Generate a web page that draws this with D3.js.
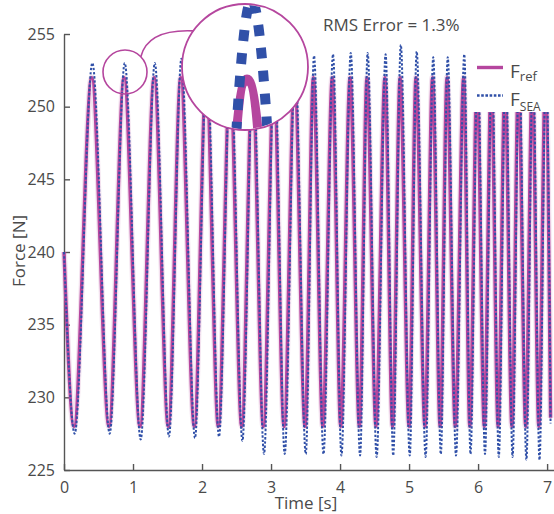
<!DOCTYPE html>
<html><head><meta charset="utf-8">
<script src="https://cdn.jsdelivr.net/npm/d3@7"></script>
<style>body{margin:0;background:#fff}svg{display:block}</style>
</head><body>
<svg id="c" width="554" height="514"></svg>
<script>
// ---- data ----
const xTicks = [0,1,2,3,4,5,6,7];
const yTicks = [225,230,235,240,245,250,255];
// F_ref: start, then alternating trough / peak times [s], end
const refTimes = [0,0.145,0.401,0.652,0.870,1.101,1.306,1.511,1.691,1.888,2.06,2.236,2.405,2.575,2.73,2.888,3.04,3.188,3.34,3.493,3.613,3.75,3.888,4.01,4.145,4.28,4.39,4.52,4.65,4.76,4.87,5.0,5.10,5.23,5.34,5.45,5.55,5.67,5.79,5.88,5.985,6.09,6.19,6.29,6.39,6.49,6.585,6.69,6.785,6.88,6.975,7.05];
const refValues = [240,228,252,228,252,228,252,228,252,228,252,228,252,228,252,228,252,228,252,228,252,228,252,228,252,228,252,228,252,228,252,228,252,228,252,228,252,228,252,228,252,228,252,228,252,228,252,228,252,228,252,228.6];
// F_SEA
const seaTimes = [0,0.155,0.411,0.662,0.880,1.111,1.316,1.521,1.701,1.898,2.07,2.246,2.415,2.585,2.74,2.898,3.05,3.198,3.35,3.503,3.623,3.76,3.898,4.02,4.155,4.29,4.40,4.53,4.66,4.77,4.88,5.01,5.11,5.24,5.35,5.46,5.56,5.68,5.80,5.89,5.995,6.10,6.20,6.30,6.40,6.50,6.595,6.70,6.795,6.89,6.985,7.05];
const seaValues = [240,227.5,253.0,227.5,253.0,227.1,253.0,227.3,253.3,227.2,253.4,227.3,253.4,227.0,253.4,226.1,253.5,226.1,253.5,226.1,253.5,226.1,253.6,226.0,253.7,226.0,253.7,225.9,253.6,226.0,254.25,226.0,253.8,225.9,253.4,226.1,253.4,226.0,253.6,226.1,253.6,226.1,253.6,225.9,253.6,225.9,253.6,225.7,253.6,225.7,253.6,228.2];
const legendLabels = [["F","ref"],["F","SEA"]];
const annotation = "RMS Error = 1.3%";

// ---- styles ----
const MAG = "#B5469E", BLUE = "#3050A8", TXT = "#4a4a4a", AX = "#555";
const FONT = "'Open Sans', sans-serif";

const svg = d3.select("#c");
const x = d3.scaleLinear().domain([0, 7.1]).range([64, 554]);
const y = d3.scaleLinear().domain([225, 255]).range([470, 34]);

const refData = refTimes.map((t,i)=>({t, v: refValues[i]}));
const seaData = seaTimes.map((t,i)=>({t, v: seaValues[i]}));

// axes
const gx = svg.append("g").attr("transform","translate(0,470)")
  .call(d3.axisBottom(x).tickValues(xTicks).tickSizeInner(-6).tickSizeOuter(0).tickPadding(12).tickFormat(d3.format("d")));
const gy = svg.append("g").attr("transform","translate(64,0)")
  .call(d3.axisLeft(y).tickValues(yTicks).tickSizeInner(-6).tickSizeOuter(0).tickPadding(9).tickFormat(d3.format("d")));
[gx, gy].forEach(g => {
  g.selectAll("path,line").attr("stroke", AX).attr("stroke-width", 1.4);
  g.selectAll("text").attr("fill", TXT).style("font-family", FONT).style("font-size", "16px");
});

svg.append("text").attr("x", 306).attr("y", 509).attr("text-anchor","middle")
  .attr("fill", TXT).style("font-family", FONT).style("font-size","17px").text("Time [s]");
svg.append("text").attr("transform","translate(25,251) rotate(-90)").attr("text-anchor","middle")
  .attr("fill", TXT).style("font-family", FONT).style("font-size","17px").text("Force [N]");

// curves
const line = d3.line().x(d=>x(d.t)).y(d=>y(d.v)).curve(d3.curveMonotoneX);
svg.append("path").datum(refData).attr("d", line).attr("fill","none")
  .attr("stroke", MAG).attr("stroke-opacity",0.16).attr("stroke-width",6);
svg.append("path").datum(refData).attr("d", line).attr("fill","none")
  .attr("stroke", MAG).attr("stroke-width",3.4);
svg.append("path").datum(seaData).attr("d", line).attr("fill","none")
  .attr("stroke", BLUE).attr("stroke-width",2).attr("stroke-dasharray","2.4,1.8");

// magnifier
const small = {cx:125, cy:72, r:22}, big = {cx:245, cy:67, r:63};
svg.append("circle").attr("cx",small.cx).attr("cy",small.cy).attr("r",small.r)
  .attr("fill","none").attr("stroke",MAG).attr("stroke-width",1.6);
const a0 = -44*Math.PI/180, a1 = -145*Math.PI/180;
const p0 = [small.cx+small.r*Math.cos(a0), small.cy+small.r*Math.sin(a0)];
const p2 = [big.cx+big.r*Math.cos(a1), big.cy+big.r*Math.sin(a1)];
const pth = d3.path(); pth.moveTo(p0[0],p0[1]); pth.quadraticCurveTo(p0[0]+7, p2[1]-2, p2[0], p2[1]);
svg.append("path").attr("d", pth.toString()).attr("fill","none").attr("stroke",MAG).attr("stroke-width",1.6);

svg.append("defs").append("clipPath").attr("id","zc").append("circle")
  .attr("cx",big.cx).attr("cy",big.cy).attr("r",big.r-1);
svg.append("circle").attr("cx",big.cx).attr("cy",big.cy).attr("r",big.r).attr("fill","#fff");
const tp = refTimes[4], vp = refValues[4];
const zx = d3.scaleLinear().domain([tp, tp+1]).range([247, 247+450]);
const zy = d3.scaleLinear().domain([vp, vp+1]).range([80, 80-80]);
const zline = d3.line().x(d=>zx(d.t)).y(d=>zy(d.v)).curve(d3.curveMonotoneX);
const zg = svg.append("g").attr("clip-path","url(#zc)");
zg.append("path").datum(refData.slice(2,7)).attr("d", zline).attr("fill","none")
  .attr("stroke", MAG).attr("stroke-width",11);
zg.append("path").datum(seaData.slice(2,7)).attr("d", zline).attr("fill","none")
  .attr("stroke", BLUE).attr("stroke-width",10).attr("stroke-dasharray","11,12");
svg.append("circle").attr("cx",big.cx).attr("cy",big.cy).attr("r",big.r)
  .attr("fill","none").attr("stroke",MAG).attr("stroke-width",1.8);

// legend
const lg = svg.append("g");
lg.append("rect").attr("x",470).attr("y",40).attr("width",84).attr("height",72).attr("fill","#fff");
const ly = [67.5, 95.5];
lg.append("line").attr("x1",477).attr("x2",503).attr("y1",ly[0]).attr("y2",ly[0]).attr("stroke",MAG).attr("stroke-width",3.4);
lg.append("line").attr("x1",477).attr("x2",503).attr("y1",ly[1]).attr("y2",ly[1]).attr("stroke",BLUE).attr("stroke-width",2.6).attr("stroke-dasharray","2.6,1.6");
legendLabels.forEach((lab,i)=>{
  const t = lg.append("text").attr("x",510).attr("y",ly[i]+10).attr("fill",TXT)
    .style("font-family",FONT).style("font-size","19px").text(lab[0]);
  t.append("tspan").attr("dy", i===0?3:5).style("font-size", i===0?"13px":"12px").text(lab[1]);
});

svg.append("text").attr("x",323).attr("y",31).attr("fill",TXT)
  .style("font-family",FONT).style("font-size","17px").text(annotation);
</script>
</body></html>
